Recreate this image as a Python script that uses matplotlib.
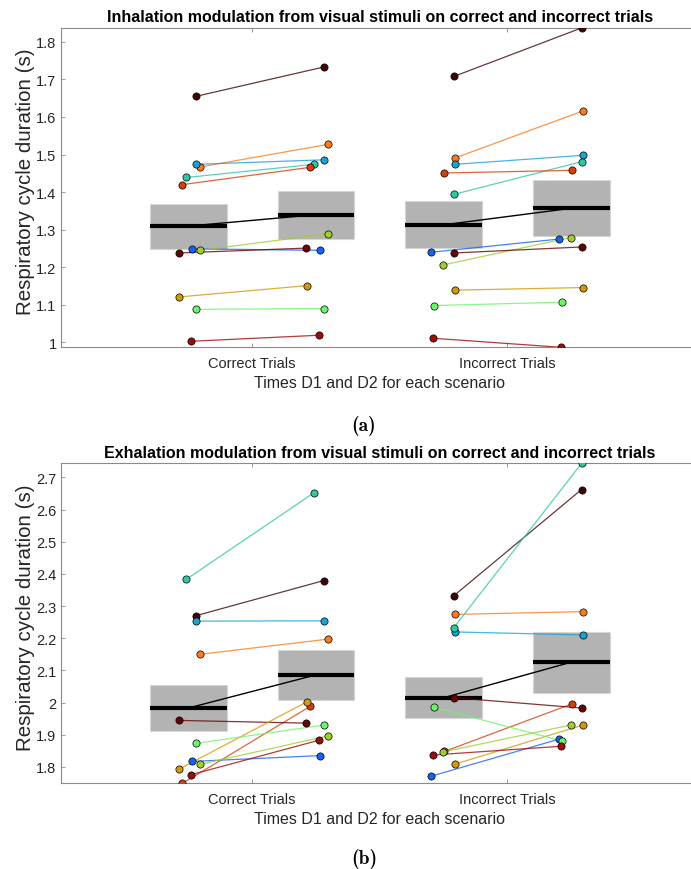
import os
import numpy as np
import matplotlib
import matplotlib.pyplot as plt
from matplotlib.patches import Rectangle
from matplotlib.ticker import FuncFormatter
from matplotlib.font_manager import FontProperties

plt.rcParams['font.family'] = ['Liberation Sans', 'DejaVu Sans']

scenarios = ['Correct Trials', 'Incorrect Trials']

# one colour per subject
colors = ['#3f0505', '#fb7b1c', '#1ba2d5', '#30c7a2', '#d63f0c', '#1663f2',
          '#a0cd32', '#640404', '#d19a0a', '#6ef46a', '#9e0b0b']

# horizontal scatter of each subject inside a group
jit_correct = [0.030, 0.046, 0.030, -0.008, -0.023, 0.015, 0.046, -0.038, -0.036, 0.030, 0.012]
jit_incorrect = [0.040, 0.045, 0.045, 0.040, 0.003, -0.049, -0.003, 0.040, 0.046, -0.037, -0.042]

# inhalation (s)
inh_corr_d1 = [1.655, 1.467, 1.474, 1.439, 1.420, 1.249, 1.245, 1.238, 1.121, 1.088, 1.003]
inh_corr_d2 = [1.733, 1.527, 1.486, 1.474, 1.466, 1.245, 1.289, 1.251, 1.151, 1.090, 1.019]
inh_inc_d1 = [1.708, 1.491, 1.474, 1.394, 1.451, 1.240, 1.206, 1.238, 1.139, 1.098, 1.011]
inh_inc_d2 = [1.837, 1.616, 1.498, 1.481, 1.458, 1.275, 1.279, 1.254, 1.146, 1.107, 0.987]
# low / median / high of the grey boxes: corr D1, corr D2, inc D1, inc D2
inh_box_low = [1.248, 1.274, 1.251, 1.283]
inh_box_med = [1.3095, 1.340, 1.313, 1.357]
inh_box_high = [1.368, 1.4035, 1.376, 1.432]

# exhalation (s)
exh_corr_d1 = [2.270, 2.150, 2.253, 2.383, 1.749, 1.817, 1.808, 1.9445, 1.793, 1.873, 1.776]
exh_corr_d2 = [2.379, 2.197, 2.254, 2.652, 1.988, 1.835, 1.896, 1.936, 2.002, 1.930, 1.883]
exh_inc_d1 = [2.332, 2.274, 2.2195, 2.233, 1.848, 1.771, 1.8465, 2.015, 1.809, 1.985, 1.837]
exh_inc_d2 = [2.662, 2.2825, 2.210, 2.743, 1.996, 1.886, 1.930, 1.983, 1.930, 1.881, 1.864]
exh_box_low = [1.912, 2.009, 1.951, 2.0295]
exh_box_med = [1.983, 2.086, 2.015, 2.1256]
exh_box_high = [2.054, 2.164, 2.079, 2.2195]


def panel(ax, groups, box_low, box_med, box_high, title):
    xs = []
    for s in range(2):
        xs += [s + 1 - 0.25, s + 1 + 0.25]
    bw = 0.3
    for g in range(4):
        ax.add_patch(Rectangle((xs[g] - bw / 2, box_low[g]), bw, box_high[g] - box_low[g],
                               fc='#b3b3b3', ec='#d6d6d6', lw=0.8, zorder=1))
        ax.plot([xs[g] - bw / 2, xs[g] + bw / 2], [box_med[g], box_med[g]],
                color='k', lw=3, solid_capstyle='butt', zorder=2)
    for s, jit in enumerate([jit_correct, jit_incorrect]):
        x1, x2 = xs[2 * s], xs[2 * s + 1]
        ax.plot([x1, x2], [box_med[2 * s], box_med[2 * s + 1]], 'k-', lw=1, zorder=2)
        d1, d2 = groups[2 * s], groups[2 * s + 1]
        for k in range(len(d1)):
            ax.plot([x1 + jit[k], x2 + jit[k]], [d1[k], d2[k]], '-', color=colors[k],
                    lw=0.9, alpha=0.8, zorder=3)
            ax.plot([x1 + jit[k], x2 + jit[k]], [d1[k], d2[k]], 'o', mfc=colors[k],
                    mec='k', mew=0.5, ms=5.2, zorder=4)

    allv = np.concatenate([np.array(g) for g in groups])
    ax.set_ylim(allv.min(), allv.max())
    ax.set_xlim(0.25, 2.75)
    ax.set_xticks([1, 2])
    ax.set_xticklabels(scenarios)
    ax.yaxis.set_major_locator(plt.MultipleLocator(0.1))
    ax.yaxis.set_major_formatter(FuncFormatter(lambda v, p: '%g' % round(v, 2)))
    ax.tick_params(direction='in', top=True, right=False, length=3, width=0.6,
                   color='#8a8a8a', labelcolor='#262626', labelsize=10.5)
    ax.tick_params(axis='y', pad=3)
    ax.tick_params(axis='x', pad=6)
    for sp in ax.spines.values():
        sp.set_color('#8a8a8a')
        sp.set_linewidth(0.8)
    ax.spines['right'].set_visible(False)  # lies past the figure edge anyway
    ax.set_title(title, fontsize=11.5, fontweight='bold', pad=5)
    ax.set_xlabel('Times D1 and D2 for each scenario', fontsize=11.5, color='#262626', labelpad=4)
    ax.set_ylabel('Respiratory cycle duration (s)', fontsize=14.8, color='#262626')
    ax.yaxis.set_label_coords(-0.040, 0.52)


fig = plt.figure(figsize=(6.91, 8.70), dpi=100)
ax1 = fig.add_axes([0.0878, 0.5997, 0.9237, 0.3670])
ax2 = fig.add_axes([0.0878, 0.0985, 0.9237, 0.3676])

panel(ax1, [inh_corr_d1, inh_corr_d2, inh_inc_d1, inh_inc_d2],
      inh_box_low, inh_box_med, inh_box_high,
      'Inhalation modulation from visual stimuli on correct and incorrect trials')
panel(ax2, [exh_corr_d1, exh_corr_d2, exh_inc_d1, exh_inc_d2],
      exh_box_low, exh_box_med, exh_box_high,
      'Exhalation modulation from visual stimuli on correct and incorrect trials')

# sub-figure captions in Computer Modern bold
cmb = os.path.join(matplotlib.get_data_path(), 'fonts', 'ttf', 'cmb10.ttf')
cap_font = FontProperties(fname=cmb, size=14)
fig.text(364 / 691, 1 - 426 / 870, '(a)', ha='center', va='center', fontproperties=cap_font)
fig.text(364 / 691, 1 - 859 / 870, '(b)', ha='center', va='center', fontproperties=cap_font)

fig.savefig('out.png', dpi=100)
